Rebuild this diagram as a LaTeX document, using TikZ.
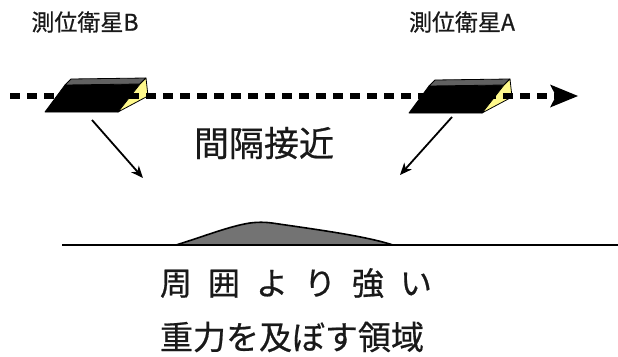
\documentclass[tikz,border=0pt]{standalone}
\usepackage{fontspec}
\newfontfamily\jpfont[FakeBold=0.6]{Noto Sans CJK JP}
\usetikzlibrary{arrows.meta}
\tikzset{
  jptext/.style={font=\jpfont, text=black!90, inner sep=0pt},
  prismfront/.style={fill=black, draw=black, line width=0.8pt, line join=round},
  prismtop/.style={fill=black!62, draw=black, line width=0.8pt, line join=round},
  prismend/.style={fill=yellow!45, draw=black, line width=0.8pt, line join=round},
  orbit/.style={line width=5.5pt, dash pattern=on 10pt off 7pt,
    -{Stealth[length=28pt,width=23pt,inset=6pt,line width=0pt]}},
  approach/.style={line width=1.8pt, -{Stealth[length=12pt,width=10pt,inset=3.5pt]}},
  ground/.style={line width=2.2pt},
  hill/.style={fill=black!55, draw=black, line width=1.6pt, line join=round}
}
% satellite body: a slanted prism with a pale end face
\newcommand{\satbody}[2]{%
  \begin{scope}[shift={(#1,#2)}]
    \filldraw[prismfront] (45,112) -- (65,85) -- (140,84) -- (118,112) -- cycle;
    \filldraw[prismtop] (65,85) -- (71,79) -- (146,78) -- (140,84) -- cycle;
    \filldraw[prismend] (140,84) -- (146,78) -- (148,96) -- (118,112) -- cycle;
  \end{scope}}
\begin{document}
\begin{tikzpicture}[x=1pt,y=-1pt]
  \useasboundingbox (0,0) rectangle (618,356);

  % satellites on their common orbit
  \satbody{0}{0}
  \satbody{364}{1}
  \coordinate (orbitStart) at (10,96);
  \coordinate (orbitEnd) at (578,96);
  \draw[orbit] (orbitStart) -- (orbitEnd);

  % labels
  \node[jptext, font=\jpfont\fontsize{23}{23}\selectfont] (labB) at (85,22) {測位衛星B};
  \node[jptext, font=\jpfont\fontsize{23}{23}\selectfont] (labA) at (462,22) {測位衛星A};
  \node[jptext, font=\jpfont\fontsize{35}{35}\selectfont] (gap) at (264,143) {間隔接近};

  % approach arrows
  \coordinate (footB) at (92,120);
  \coordinate (tipB) at (143,178);
  \coordinate (footA) at (452,117);
  \coordinate (tipA) at (400,175);
  \draw[approach] (footB) -- (tipB);
  \draw[approach] (footA) -- (tipA);

  % ground and the mass anomaly
  \coordinate (groundL) at (62,245);
  \coordinate (groundR) at (618,245);
  \filldraw[hill] (176,245) .. controls (205,236) and (230,226) .. (250,223)
    .. controls (258,222) and (264,222) .. (272,223)
    .. controls (320,230) and (365,236) .. (393,245) -- cycle;
  \draw[ground] (groundL) -- (groundR);

  % description
  \node[jptext, font=\jpfont\fontsize{32}{32}\selectfont] (line1) at (296,283)
    {周\hspace{16pt}囲\hspace{16pt}よ\hspace{16pt}り\hspace{16pt}強\hspace{16pt}い};
  \node[jptext, font=\jpfont\fontsize{33}{33}\selectfont] (line2) at (292,337) {重力を及ぼす領域};
\end{tikzpicture}
\end{document}
